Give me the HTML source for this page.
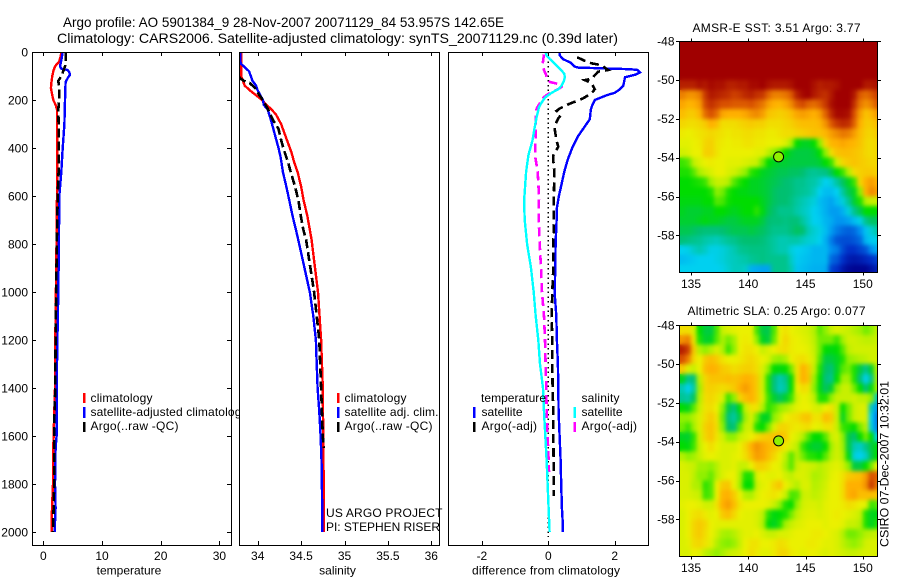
<!DOCTYPE html>
<html><head><meta charset="utf-8"><title>Argo profile</title>
<style>
html,body{margin:0;padding:0;background:#fff}
svg{display:block}
text{font-family:"Liberation Sans",sans-serif;font-size:12px;fill:#000}
.title{font-size:14px}
</style></head>
<body>
<svg id="chart" xmlns="http://www.w3.org/2000/svg" width="900" height="580" viewBox="0 0 900 580">
<defs>
<clipPath id="clipT"><rect x="33" y="52" width="198" height="493"/></clipPath>
<clipPath id="clipS"><rect x="240" y="52" width="200" height="493"/></clipPath>
<clipPath id="clipD"><rect x="449" y="52" width="199" height="493"/></clipPath>
<clipPath id="clipM1"><rect x="679.5" y="41" width="198" height="231"/></clipPath>
<clipPath id="clipM2"><rect x="679.5" y="325" width="198" height="231"/></clipPath>
<filter id="soften" filterUnits="objectBoundingBox" x="-5%" y="-5%" width="110%" height="110%" color-interpolation-filters="sRGB">
<feGaussianBlur in="SourceGraphic" stdDeviation="2" result="b"/>
<feMerge><feMergeNode in="SourceGraphic"/><feMergeNode in="b"/></feMerge>
</filter>
</defs>
<text class="title" x="63" y="27" textLength="441" lengthAdjust="spacingAndGlyphs">Argo profile: AO 5901384_9 28-Nov-2007 20071129_84 53.957S 142.65E</text>
<text class="title" x="57" y="43" textLength="561" lengthAdjust="spacingAndGlyphs">Climatology: CARS2006. Satellite-adjusted climatology: synTS_20071129.nc (0.39d later)</text>

<g id="panelT">
<g id="marksT" clip-path="url(#clipT)"></g>
<g id="axesT"></g>
<rect x="83" y="393" width="2.5" height="10" fill="#f00"/>
<rect x="83" y="407" width="2.5" height="11" fill="#00f"/>
<rect x="83" y="422" width="2.5" height="10" fill="#000"/>
<text x="90.5" y="402" textLength="62">climatology</text>
<text x="90.5" y="416" textLength="157">satellite-adjusted climatology</text>
<text x="90.5" y="430" textLength="88">Argo(..raw -QC)</text>
<text x="129" y="574.5" text-anchor="middle">temperature</text>
</g>

<g id="panelS">
<rect x="239" y="52" width="201" height="493" fill="#fff"/>
<g id="marksS" clip-path="url(#clipS)"></g>
<g id="axesS"></g>
<rect x="337" y="393" width="2.5" height="10" fill="#f00"/>
<rect x="337" y="407" width="2.5" height="11" fill="#00f"/>
<rect x="337" y="422" width="2.5" height="10" fill="#000"/>
<text x="344.5" y="402" textLength="62">climatology</text>
<text x="344.5" y="416" textLength="94">satellite adj. clim.</text>
<text x="344.5" y="430" textLength="88">Argo(..raw -QC)</text>
<text x="326" y="517" textLength="116.5">US ARGO PROJECT</text>
<text x="326" y="531" textLength="114">PI: STEPHEN RISER</text>
<text x="337.5" y="574.5" text-anchor="middle">salinity</text>
</g>

<g id="panelD">
<g id="marksD" clip-path="url(#clipD)"></g>
<g id="axesD"></g>
<text x="481" y="402" textLength="65">temperature</text>
<rect x="473" y="407" width="2.5" height="11" fill="#00f"/>
<rect x="473" y="422" width="2.5" height="10" fill="#000"/>
<text x="481.5" y="416" textLength="41">satellite</text>
<text x="481.5" y="430" textLength="55.5">Argo(-adj)</text>
<text x="581.5" y="402" textLength="38">salinity</text>
<rect x="573.5" y="407" width="2.5" height="11" fill="#0ff"/>
<rect x="573.5" y="422" width="2.5" height="10" fill="#f0f"/>
<text x="581.5" y="416" textLength="41">satellite</text>
<text x="581.5" y="430" textLength="55.5">Argo(-adj)</text>
<text x="472" y="574.5" textLength="148">difference from climatology</text>
</g>

<g id="panelM1">
<text x="692.5" y="32" textLength="168">AMSR-E SST: 3.51 Argo: 3.77</text>
<g id="cellsM1" clip-path="url(#clipM1)"><g id="cellsM1inner" filter="url(#soften)" shape-rendering="crispEdges"></g></g>
<g id="axesM1"></g>
</g>
<g id="panelM2">
<text x="687.5" y="315" textLength="178">Altimetric SLA: 0.25 Argo: 0.077</text>
<g id="cellsM2" clip-path="url(#clipM2)"><g id="cellsM2inner" filter="url(#soften)" shape-rendering="crispEdges"></g></g>
<g id="axesM2"></g>
</g>
<text transform="translate(888.5,547) rotate(-90)" textLength="166" lengthAdjust="spacingAndGlyphs">CSIRO 07-Dec-2007 10:32:01</text>
</svg>
<script>
// ---- tick labels ----
const depthTicks = [0,200,400,600,800,1000,1200,1400,1600,1800,2000];
const tempTicks = [0,10,20,30];
const salTicks = [34,34.5,35,35.5,36];
const diffTicks = [-2,0,2];
const latTicks = [-48,-50,-52,-54,-56,-58];
const lonTicks = [135,140,145,150];

// ---- temperature profiles ----
const climTempDepth = [0,20,40,60,80,100,120,150,180,200,220,240,300,400,500,600,800,1000,1200,1400,1600,1700,1800,1900,2000];
const climTempValue = [3.07,2.95,2.7,2.0,1.7,1.53,1.42,1.3,1.53,1.7,2.1,2.33,2.33,2.38,2.38,2.33,2.25,2.15,2.05,2.0,1.76,1.65,1.65,1.48,1.42];
const satTempDepth = [0,15,30,60,70,75,85,95,105,125,200,300,400,500,600,800,1000,1200,1400,1600,1650,1800,1900,2000];
const satTempValue = [3.3,3.2,3.1,2.85,3.1,4.15,4.45,4.55,4.25,3.8,3.7,3.6,3.3,3.07,2.73,2.65,2.55,2.4,2.27,2.27,2.1,2.0,2.1,1.93];
const argoTempDepth = [0,40,60,100,120,150,200,240,300,400,500,600,800,1000,1200,1400,1500,1600,1800,2000];
const argoTempValue = [3.8,3.8,3.7,3.1,2.55,2.7,2.7,2.55,2.6,2.6,2.6,2.45,2.3,2.2,2.1,2.05,1.9,1.85,1.85,1.65];

// ---- salinity profiles ----
const climSalDepth = [0,50,100,120,140,160,180,200,220,240,260,280,300,340,380,420,460,500,560,620,680,740,780,1000,1200,1400,1600,1800,2000];
const climSalValue = [33.81,33.81,33.81,33.83,33.85,33.91,33.98,34.05,34.1,34.16,34.21,34.24,34.27,34.31,34.35,34.39,34.42,34.46,34.5,34.53,34.57,34.6,34.62,34.695,34.73,34.75,34.755,34.76,34.76];
const satSalDepth = [0,25,40,50,60,70,80,100,120,140,160,180,200,220,240,280,320,360,400,440,500,560,620,680,740,780,1000,1100,1200,1300,1400,1500,1600,1700,1800,2000];
const satSalValue = [33.8,33.8,33.8,33.81,33.84,33.87,33.9,33.92,33.94,33.98,34.0,34.03,34.06,34.07,34.115,34.15,34.18,34.21,34.24,34.265,34.29,34.33,34.365,34.4,34.44,34.465,34.6,34.64,34.67,34.68,34.69,34.71,34.725,34.735,34.74,34.745];
const argoSalDepth = [100,110,120,130,150,180,200,240,280,320,360,400,460,500,560,620,680,740,780,1000,1200,1400,1600,1650];
const argoSalValue = [33.78,33.8,33.84,33.91,33.97,34.02,34.06,34.12,34.17,34.24,34.265,34.295,34.35,34.38,34.43,34.47,34.495,34.525,34.557,34.65,34.71,34.73,34.75,34.76];

// ---- differences from climatology ----
const diffSatTempDepth = [0,15,30,45,60,65,70,72,75,85,95,105,120,140,155,170,180,200,220,240,280,300,350,400,450,500,550,600,650,700,800,900,1000,1100,1200,1300,1400,1500,1600,1700,1800,1900,1950,2000];
const diffSatTempValue = [0.33,0.35,0.45,0.68,0.78,0.9,2.1,2.5,2.69,2.76,2.61,2.31,2.29,2.26,2.16,2.0,1.76,1.4,1.33,1.28,1.25,1.15,0.9,0.72,0.58,0.48,0.4,0.32,0.26,0.25,0.22,0.21,0.19,0.24,0.26,0.29,0.3,0.31,0.34,0.37,0.39,0.41,0.43,0.44];
const diffArgoTempDepth = [22,40,47,55,75,82,112,117,130,155,172,193,207,215,235,245,262,277,305,327,370,395,430,450,500,600,700,800,900,1000,1100,1200,1300,1400,1500,1600,1700,1800,1850];
const diffArgoTempValue = [0.87,1.15,1.3,1.6,1.8,1.5,1.3,1.1,1.3,1.4,1.3,1.05,0.8,0.65,0.35,0.25,0.38,0.3,0.2,0.2,0.25,0.3,0.15,0.15,0.18,0.17,0.17,0.15,0.15,0.12,0.1,0.12,0.12,0.13,0.15,0.15,0.16,0.17,0.17];
const diffSatSalDepth = [0,15,30,50,70,90,105,120,140,155,170,190,210,230,270,320,370,430,500,560,620,700,800,900,1000,1100,1200,1300,1400,1500,1600,1700,1800,1900,2000];
const diffSatSalValue = [-0.08,-0.05,0.05,0.2,0.35,0.48,0.5,0.47,0.4,0.3,0.1,-0.1,-0.2,-0.28,-0.35,-0.42,-0.48,-0.6,-0.67,-0.7,-0.73,-0.71,-0.64,-0.52,-0.44,-0.38,-0.3,-0.25,-0.16,-0.13,-0.09,-0.05,-0.02,0.01,0.04];
const diffArgoSalDepth = [10,30,50,75,95,110,125,135,145,155,170,190,235,250,280,350,430,500,600,700,800,900,1000,1100,1200,1300,1400,1500,1600,1700,1750];
const diffArgoSalValue = [-0.13,-0.15,-0.17,-0.13,-0.07,-0.05,0.05,0.35,0.4,0.3,0.05,-0.15,-0.35,-0.37,-0.38,-0.38,-0.4,-0.32,-0.28,-0.29,-0.26,-0.22,-0.19,-0.13,-0.1,-0.08,-0.06,-0.05,-0.02,0.01,0.02];
const zeroLineDepth = [0,2020];
const zeroLineValue = [0,0];

// ---- float position ----
const floatLon = 142.65;
const floatLat = -53.957;

// ---- heatmap grids (colour-scale level 0..10, rows from 48S, 0.5 degree cells from 134E) ----
const sstGrid = [
[10,10,10,10,10,10,10,10,10,10,10,10,10,10,10,10,10,10,10,10,10,10,10,10,10,10,10,10,10,10,10,10,10,10,10],
[10,10,10,10,10,10,10,10,10,10,10,10,10,10,10,10,10,10,10,10,10,10,10,10,10,10,10,10,10,10,10,10,10,10,10],
[10,10,10,10,10,10,10,10,10,10,10,10,10,10,10,10,10,10,10,10,10,10,10,10,10,10,10,10,10,10,10,10,10,10,10],
[10,10,10,10,10,10,10,10,10,10,10,10,10,10,10,10,10,10,10,10,10,10,10,10,10,10,10,10,10,10,10,10,10,10,10],
[9.6,9.6,9.6,9.8,9.7,9.9,9.8,9.8,9.6,9.6,9.7,9.7,9.9,9.9,10,9.8,9.7,9.7,9.7,9.8,10,10,10,9.8,9.6,9.7,9.7,9.8,10,10,10,10,9.7,9.7,9.8],
[8.5,8.3,8.3,8.5,9.3,9.7,9.6,9.5,9.4,9.2,9.3,9.5,9.6,9.4,9.3,8.8,8.5,8.5,8.6,8.9,9.6,9.9,10,9.7,9.5,9.4,9.7,10,10,10,9.7,8.9,8.7,8.9,9.2],
[8.1,7.9,8,8.2,9.1,9.4,9.2,9,9,8.9,8.9,8.9,9,8.8,8.6,8.2,8,7.9,8.1,8.4,8.9,9.1,8.8,8.7,8.9,9.3,9.8,10,10,10,9.4,8.6,8.3,8.5,8.9],
[7.8,7.6,7.6,7.9,8.7,9,8.7,8.1,8,8,8,8.1,8.3,8.4,8.2,7.7,7.6,7.5,7.6,7.8,8.1,8.2,8.1,8,8.2,8.8,9.5,9.9,9.9,9.8,9,8.2,7.7,7.9,8.2],
[7.4,7.3,7.3,7.4,7.6,8,7.8,7.3,7.3,7.3,7.4,7.5,7.6,7.5,7.5,7.3,7.3,7.3,7.4,7.5,7.7,7.8,7.8,7.8,7.9,8.3,8.9,9.3,9.5,9.4,8.8,8,7.6,7.6,7.8],
[7.1,7,7.1,7.2,7.3,7.4,7.3,7.2,7.1,7.2,7.2,7.3,7.3,7.2,7.2,7.1,7.1,7.2,7.3,7.3,7.4,7.5,7.6,7.7,7.7,7.9,8.2,8.4,8.6,8.5,8.2,7.8,7.5,7.4,7.6],
[6.9,6.9,7,7.1,7.4,7.5,7.2,7.1,7,7.1,7.1,7.2,7.2,7.1,7.1,7,7,7,6.8,6.2,5,4.8,4.8,5,6,7.4,7.9,8,8.1,8,7.9,7.7,7.4,7.3,7.4],
[6.7,6.8,7,7,7.5,7.5,7.2,7,7,7,7,7,7,6.9,6.9,6.5,6,5.6,5,4.7,4.6,4.6,4.6,4.7,5,6,7.3,7.7,7.8,7.8,7.7,7.6,7.4,7.3,7.4],
[5.4,5.6,6.5,6.8,7,7.1,7,7,6.9,6.9,6.9,6.8,6.7,6.6,5.8,5,4.8,4.7,4.7,4.6,4.6,4.6,4.6,4.6,4.7,5,5.4,6.7,7.4,7.6,7.7,7.6,7.5,7.4,7.4],
[5.2,5.2,5.6,6.3,6.6,6.8,7,7,6.8,6.7,6.4,6,5.3,5.1,4.8,4.7,4.6,4.5,4.5,4.4,4.4,4.3,4,3.9,4,4.1,4.5,5,5.4,6.4,7.3,7.5,7.6,7.6,7.5],
[5,5,5.1,5.2,5.4,6.2,6.6,6.6,6.4,5.6,5.2,5,4.8,4.8,4.7,4.6,4.5,4.4,4.3,4.2,4,4,3.8,3.7,3.4,3,3.2,3.8,4.4,4.8,5.4,7.4,8,8.2,8],
[5,5,5,5,5,5.2,6,5.8,5.2,5,4.9,4.9,4.8,4.8,4.7,4.6,4.4,4.3,4.3,4.2,4,3.9,3.8,3.5,3,2.7,2.7,3,3.8,4.5,4.8,6,8,8.4,8.2],
[4.9,4.9,4.9,4.9,5,5,5.6,5.5,5.1,5,5,5,5,5,4.8,4.6,4.4,4.3,4.3,4.1,3.8,3.6,3.4,3.2,2.7,2.5,2.3,2.7,3.2,3.9,4.7,5.2,6.4,6.6,6.6],
[4.8,4.7,4.7,4.7,4.8,4.8,5,5,4.9,4.8,4.9,5,5,5.3,4.9,4.5,4.3,4,4,4,3.7,3.5,3.3,3,2.8,2.5,2.2,2.2,2.5,3.2,4,4.5,5,5,5],
[4.7,4.7,4.7,4.8,4.9,4.8,4.8,4.7,4.6,4.6,4.7,4.8,4.8,4.8,4.6,4.3,4.2,4.2,4.1,4.2,4.2,3.8,3.4,3,2.9,2.6,2.4,2.1,2.1,2.3,2.7,3.1,4,4.4,4.4],
[4.5,4.5,4.4,4.3,4.2,4.2,4.2,4.3,4.4,4.5,4.5,4.5,4.6,4.5,4.4,4.2,4,4,4,4.2,4.4,4.3,3.6,3.3,3.1,2.7,2.2,1.8,1.6,1.5,1.6,2,2.8,3.3,3.7],
[4.2,4.1,4,3.9,3.7,3.6,3.5,3.7,3.9,4,4.2,4.3,4.3,4.3,4.2,4,3.8,3.6,3.6,3.7,3.7,3.5,3.3,3.2,3,2.5,1.8,1.4,1.3,1.3,1.4,1.6,2.6,2.9,3.1],
[3,3.1,3.4,3.6,3.4,3.1,3.1,3.2,3.4,3.6,3.9,4,4.1,4.1,4.1,4,3.8,3.6,3.6,3.2,3,2.9,2.8,2.6,2.6,2.6,2,1.8,1.3,1,1,1.2,1.4,2,2.4],
[2.7,2.8,2.9,3,3,3,3.1,3.2,3.4,3.5,3.6,3.7,3.9,4,4.1,4,4,4,4,3.4,2.9,2.8,2.7,2.6,2.6,2.6,1.6,1.4,1,0.6,0.5,0.6,0.8,1,1.2],
[3,3,3,3,3,3,3,3.1,3.3,3.5,3.5,3.4,2.5,2.4,2.3,2.3,4,4,4,3.6,2.8,2.7,2.6,2.5,2.5,2.4,1.2,1,0.5,0.2,0.1,0.1,0.1,0.4,0.7]
];
const slaGrid = [
[7.3,7.3,6.8,5,4.6,4.6,5.5,6.6,6.8,6.9,7,7,7,5.5,4.6,4.5,5.5,7,7.2,7,6.9,6.8,6.7,6.4,5.6,6,6.6,6.8,6.7,6.6,6.4,6.2,5.8,6,6.5],
[8.3,8.5,7.2,5.2,4.7,4.8,5.6,6.3,5.8,6.2,7,7.1,7,6,4.8,4.6,5.7,7,7.4,7.1,7,6.9,6.8,6.5,5.8,5.8,5.8,5.4,6.2,6.7,6.7,6.6,6.5,6.5,6.6],
[9.6,9.2,7.6,6.4,6,6.4,6.8,6.4,5.4,6,7,7.2,7.2,7,6.6,6.8,7,7.2,7.3,7.1,7,7,6.9,6.6,5.8,5,4.9,5,5.6,6.5,6.7,6.7,6.7,6.7,6.7],
[9,8.5,7.4,7,7.6,7.8,7.6,7.2,7,7,7.1,7.3,7.4,7.2,7,6.8,6.2,6,6.3,7,7.2,7.3,7.1,6.7,5.6,4.6,4.6,4.8,5.2,6,6.2,6.4,6.5,6.7,6.7],
[7.6,6.8,6.6,7,7.8,8,7.9,7.6,7.5,7.3,7.4,7.5,7.5,7.3,6.8,6,5,4.9,5,5.8,7.2,8,7.6,6.6,5.2,4.4,4.2,4.8,5.6,5.8,5.2,4.6,4,4.7,6.4],
[4.8,4,4.2,6.5,7.4,7.7,7.7,7.7,7.8,7.7,7.8,8,7.9,7.6,6.7,5.2,4.2,3.6,4,5,7.2,8,7.7,6.2,5,4.2,4,5,6.2,6.2,5.2,4.2,3,4,6.2],
[3.6,3,3.7,6.2,7.4,7.5,7.4,7.3,7.4,7.6,8,8.2,8,7.6,6.7,5.2,4.2,3.5,3.8,5,7,7.3,7.2,6,4.9,4.4,4.7,6,6.6,6.6,5.8,5,4.2,4.9,6.2],
[3.9,3.7,4.4,6.4,7.3,7.4,7.2,6.8,5.4,6,7.4,7.8,8,7.6,6.8,5.4,4.7,4.4,4.7,5.4,6.7,7,6.9,6.5,5.2,5.2,6,6.6,6.6,6.6,6.7,6.5,6.5,6,3.5],
[5,4.8,5.6,6.6,7.2,7.3,7,6,4.6,4.2,5,6.6,7.2,7.2,6.4,5.3,5.6,6,6.3,6.6,6.9,7,7,6.8,6.7,7,7.2,6.6,5,5.8,6.6,6.8,6.8,3.5,2.2],
[6,6,6.4,6.8,7.3,7.6,7.2,5.8,4.2,3.8,4.6,6.2,6.8,5.8,4.8,4.8,6,6.5,7,7.2,7.3,7.6,7.7,7.2,7.2,7.8,7.6,6.6,4.8,5.8,6.6,6.8,6.8,3,1.8],
[5.8,5.4,6.2,6.8,7.5,7.7,7.3,6,4.4,4.2,5.6,6.6,6.7,5.2,5,5.8,6.8,7.4,7.4,7.2,7.1,7.2,7.3,7,6.9,7.2,7.2,6.6,5.4,5.2,5,5.8,6.5,3.2,1.9],
[4.8,4.7,5.3,6.7,7.4,7.7,7.2,6.7,6,6,6.6,6.8,7,7.3,7.5,7.6,7.7,7.8,7.6,7,6.8,6.4,5.6,5,5,5.6,6.6,6.8,6,4.6,4.3,5,5.8,5,3],
[5,4.9,5.4,6.6,7,7.3,7,6.8,6.8,6.8,7,7.4,8,8.3,8.1,7.9,7.7,7.4,7.1,6.8,6.5,5.4,4.9,4.7,4.7,5,6.2,6.7,6.2,4.6,3.6,3.4,4,4.6,4.9],
[6.4,6,6.2,6.6,6.9,7,6.9,6.8,6.8,6.9,7,7.3,7.8,8.2,8.1,7.8,7.4,7,6.5,5.6,6.4,5.8,5.3,5.2,5,5.6,6.4,6.7,6.4,4.9,3.2,3,3.4,4.5,5],
[6.8,6.7,6.6,6.2,6.2,6,6.4,6.8,6.8,6.9,6.6,6.6,7,7.5,7.5,7.3,7,6.9,6.3,5.6,6.6,6.8,6.7,6.6,6.4,6.6,6.8,6.9,6.7,6,4.6,4.6,5,5.8,7],
[6.8,6.8,6.5,6,6,5.7,6.4,6.8,7,7,6.4,5.2,5.2,6.8,7,6.9,6.9,7,6.7,6.5,6.8,6.8,6.7,6.3,6.4,6.6,6.9,7,7.2,7.6,7.7,7.8,8.2,9,8.8],
[6.8,6.8,6.4,6.3,5.3,5.6,7,7.6,7.7,7,6.3,5,5,6.6,6.9,7,7.4,7.7,7,6.7,6.4,6.8,6.8,6.4,6.5,6.7,7,7,7.3,8,8,8,8.3,9.3,8.6],
[6.8,6.8,6.7,6.6,5.4,5.6,7,7.9,8,7.6,7,6.4,6.3,6.8,7,7.1,7.2,7,6.6,5.5,5.6,6.6,6.7,6.5,6.6,6.8,7,7,7.3,8,8.1,7.8,7.8,7.8,7.7],
[6.9,7,7,6.9,6.7,6.7,7.2,8,8.2,7.8,7.2,7,7,7,7,6.9,6.6,6,5.2,5,6,6.7,6.8,6.8,6.7,6.9,7,7,7.1,7.3,7.2,7,6.9,5.4,5.6],
[6.8,7,7.2,7.3,7.1,6.9,7,7.6,7.8,7.4,7,6.9,6.9,6.8,6.5,5.3,4.9,5,5.2,5.8,6.5,6.8,6.9,6.9,6.8,6.9,7,7.1,7,6.9,6.8,6.6,5.2,4.8,4.9],
[6.8,7,7.4,7.6,7.4,7,6.9,6.9,6.9,6.9,6.9,6.9,6.9,6.8,6.4,5,4.8,5.2,6.2,6.6,6.8,6.9,7,7,7,6.9,7,7,6.9,6.6,6.6,6.4,5.2,4.8,5.2],
[6.8,7,7.4,7.6,7.3,7,6.7,6.3,6.2,6.4,6.7,6.9,6.9,7,6.8,6.6,6.6,6.8,6.8,6.9,7,7,7,7.1,7.1,7,6.9,6.8,6.4,5.8,5.8,6,6.4,6.5,6.6],
[6.8,6.9,7.3,7.4,7.2,6.9,6.4,6,5.9,6.1,6.6,7,7.2,7.2,7,7,7.1,7.3,7.2,7,7,7,7.1,7.1,7,6.9,6.9,6.8,6.5,6.2,6,6.3,6.7,6.8,6.8],
[6.8,6.8,7,6.9,6.5,6.3,6,6.3,6.6,6.7,6.8,7,7.3,7.1,6.9,6.9,7.1,7.4,7.4,7.1,7,6.9,7,7,6.9,6.8,6.9,6.8,6.7,6.6,6.6,6.7,6.8,6.8,6.8]
];
const floatSst = 6;
const floatSla = 6;

// ---- axis functions ----
const NS = 'http://www.w3.org/2000/svg';
const yDepth = d => 52 + 0.24 * d;
const xTemp = v => 43.3 + 5.87 * v;
const xSal = v => 257.7 + 86.8 * (v - 34);
const xDiff = v => 548.3 + 33.2 * v;
const xLon = lon => 691 + (lon - 135) * 11.45;
const yLat1 = lat => 41.3 + (-48 - lat) * 19.4;
const yLat2 = lat => 325.3 + (-48 - lat) * 19.4;

function svgEl(tag, attrs, parent) {
  const n = document.createElementNS(NS, tag);
  for (const k in attrs) n.setAttribute(k, attrs[k]);
  parent.appendChild(n);
  return n;
}
function byId(id) { return document.getElementById(id); }

const scaleStops = [0,1,2,3,3.7,4.3,5,6,7,8,9,10];
const scaleColors = [[0,0,140],[0,48,200],[0,144,240],[0,208,240],[0,200,168],[0,192,112],[0,220,0],[144,240,0],[235,240,0],[255,176,0],[216,80,0],[160,0,0]];
function levelColor(v) {
  let i = 0;
  while (i < scaleStops.length - 2 && v > scaleStops[i + 1]) i++;
  const t = Math.max(0, Math.min(1, (v - scaleStops[i]) / (scaleStops[i + 1] - scaleStops[i])));
  const c = scaleColors[i].map((a, k) => Math.round(a + (scaleColors[i + 1][k] - a) * t));
  return 'rgb(' + c.join(',') + ')';
}

function profile(parent, depth, value, xf, color, width, dash, name) {
  const pts = depth.map((d, i) => xf(value[i]).toFixed(1) + ',' + yDepth(d).toFixed(1)).join(' ');
  const attrs = {points: pts, fill: 'none', stroke: color, 'stroke-width': width, 'shape-rendering': 'crispEdges'};
  if (dash) attrs['stroke-dasharray'] = dash;
  const line = svgEl('polyline', attrs, parent);
  
  
}

function profileAxes(parent, left, right, xf, xTicks, withY) {
  const top = 52, bottom = 545;
  const box = svgEl('rect', {x: left + 0.5, y: top + 0.5, width: right - left, height: bottom - top, fill: 'none', stroke: '#000', 'stroke-width': 1, 'shape-rendering': 'crispEdges'}, parent);
  
  
  xTicks.forEach(t => {
    const x = Math.round(xf(t)) + 0.5;
    const tk = svgEl('path', {d: 'M' + x + ' ' + top + 'v4M' + x + ' ' + bottom + 'v-4', stroke: '#000', 'stroke-width': 1, 'shape-rendering': 'crispEdges'}, parent);
    
    
    const lb = svgEl('text', {x: xf(t), y: 560, 'text-anchor': 'middle'}, parent);
    lb.textContent = String(t);
    
    
  });
  if (withY) {
    depthTicks.forEach(t => {
      const y = Math.round(yDepth(t)) + 0.5;
      const tk = svgEl('path', {d: 'M' + left + ' ' + y + 'h4M' + right + ' ' + y + 'h-4', stroke: '#000', 'stroke-width': 1, 'shape-rendering': 'crispEdges'}, parent);
      
      
      const lb = svgEl('text', {x: 28, y: yDepth(t) + 4.5, 'text-anchor': 'end'}, parent);
      lb.textContent = String(t);
      
      
    });
  }
}

function heatmap(parent, grid, yf, name) {
  grid.forEach((row, r) => {
    row.forEach((v, c) => {
      const lon = 134 + c * 0.5;
      const lat = -48 - r * 0.5;
      const x0 = xLon(lon), x1 = xLon(lon + 0.5), y0 = yf(lat), y1 = yf(lat - 0.5);
      const cell = svgEl('rect', {x: x0.toFixed(1), y: y0.toFixed(1), width: (x1 - x0 + 0.5).toFixed(1), height: (y1 - y0 + 0.5).toFixed(1), fill: levelColor(v)}, parent);
      
      
    });
  });
}

function mapAxes(parent, top, bottom, yf, level) {
  const left = 679, right = 877;
  const box = svgEl('rect', {x: left + 0.5, y: top + 0.5, width: right - left, height: bottom - top, fill: 'none', stroke: '#000', 'stroke-width': 1, 'shape-rendering': 'crispEdges'}, parent);
  
  
  lonTicks.forEach(t => {
    const x = Math.round(xLon(t)) + 0.5;
    const tk = svgEl('path', {d: 'M' + x + ' ' + top + 'v-2.5M' + x + ' ' + (bottom + 1) + 'v2.5', stroke: '#000', 'stroke-width': 1, 'shape-rendering': 'crispEdges'}, parent);
    
    
    const lb = svgEl('text', {x: xLon(t), y: bottom + 16, 'text-anchor': 'middle'}, parent);
    lb.textContent = String(t);
    
    
  });
  latTicks.forEach(t => {
    const y = Math.round(yf(t)) + 0.5;
    const tk = svgEl('path', {d: 'M' + left + ' ' + y + 'h-3M' + (right + 1) + ' ' + y + 'h3', stroke: '#000', 'stroke-width': 1, 'shape-rendering': 'crispEdges'}, parent);
    
    
    const lb = svgEl('text', {x: 674.5, y: yf(t) + 4, 'text-anchor': 'end'}, parent);
    lb.textContent = String(t);
    
    
  });
  const dot = svgEl('circle', {cx: xLon(floatLon), cy: yf(floatLat), r: 5, fill: levelColor(level), stroke: '#000', 'stroke-width': 1}, parent);
  
  
}

// ---- draw ----
const mT = byId('marksT'), mS = byId('marksS'), mD = byId('marksD');
profile(mT, climTempDepth, climTempValue, xTemp, '#f00', 2.4, null, 'climatology-temperature-line');
profile(mT, satTempDepth, satTempValue, xTemp, '#00f', 2.4, null, 'satellite-temperature-line');
profile(mT, argoTempDepth, argoTempValue, xTemp, '#000', 2.6, '9 4', 'argo-temperature-line');
profile(mS, climSalDepth, climSalValue, xSal, '#f00', 2.4, null, 'climatology-salinity-line');
profile(mS, satSalDepth, satSalValue, xSal, '#00f', 2.4, null, 'satellite-salinity-line');
profile(mS, argoSalDepth, argoSalValue, xSal, '#000', 2.6, '9 4', 'argo-salinity-line');
profile(mD, zeroLineDepth, zeroLineValue, xDiff, '#000', 1.2, '1.5 3.2', 'zero-difference-line');
profile(mD, diffSatTempDepth, diffSatTempValue, xDiff, '#00f', 2.4, null, 'satellite-temperature-difference-line');
profile(mD, diffArgoTempDepth, diffArgoTempValue, xDiff, '#000', 2.6, '9 5', 'argo-temperature-difference-line');
profile(mD, diffArgoSalDepth, diffArgoSalValue, xDiff, '#f0f', 2.6, '9 5', 'argo-salinity-difference-line');
profile(mD, diffSatSalDepth, diffSatSalValue, xDiff, '#0ff', 2.4, null, 'satellite-salinity-difference-line');

profileAxes(byId('axesT'), 32, 231, xTemp, tempTicks, true);
profileAxes(byId('axesS'), 239, 439, xSal, salTicks, false);
profileAxes(byId('axesD'), 448, 648, xDiff, diffTicks, false);

heatmap(byId('cellsM1inner'), sstGrid, yLat1, 'sst-cell');
heatmap(byId('cellsM2inner'), slaGrid, yLat2, 'sla-cell');
mapAxes(byId('axesM1'), 41, 272, yLat1, floatSst);
mapAxes(byId('axesM2'), 325, 556, yLat2, floatSla);
</script>
</body></html>
